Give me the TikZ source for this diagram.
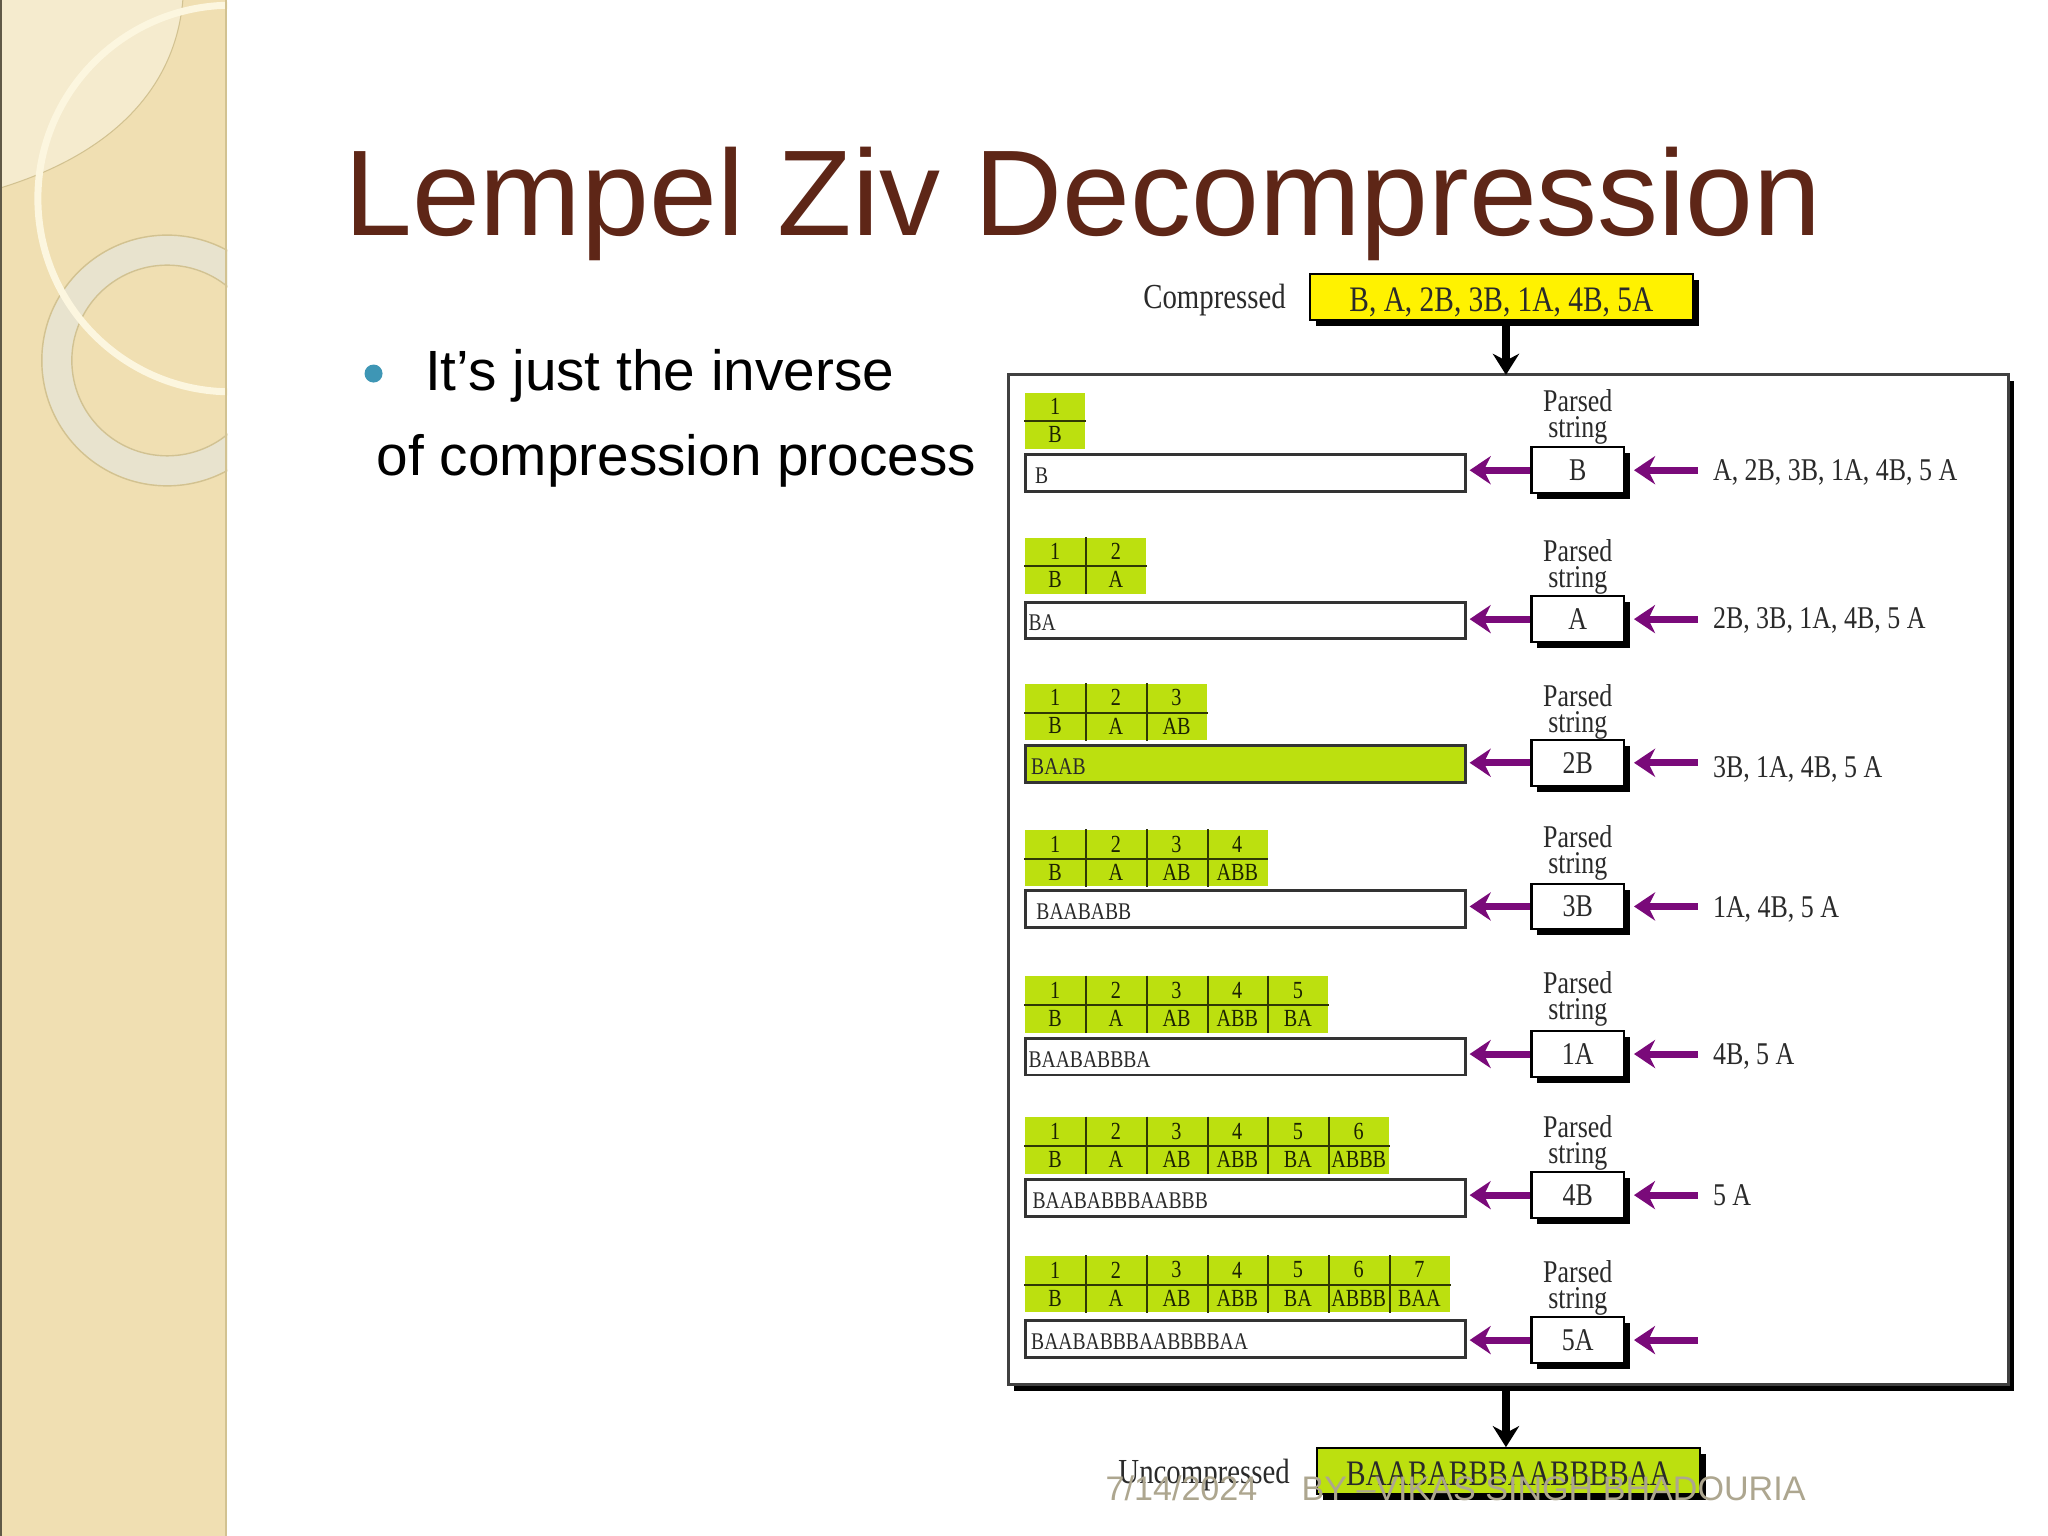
\documentclass[tikz,border=0pt]{standalone}
\usepackage{fontspec}
\usepackage{tikz}
\usetikzlibrary{arrows.meta,shadows}
\setmainfont{Liberation Sans}
\newfontfamily\figfont[FakeStretch=0.82]{Liberation Serif}

\definecolor{sidebar}{HTML}{F0DFB2}
\definecolor{sidelight}{HTML}{F5EBCE}
\definecolor{sideedge}{HTML}{D2C291}
\definecolor{ringthin}{HTML}{FCF6DF}
\definecolor{ringwide}{HTML}{E8E3CE}
\definecolor{titlecol}{HTML}{5E2617}
\definecolor{bulletcol}{HTML}{3E96B5}
\definecolor{footcol}{HTML}{ADA68F}
\definecolor{limecol}{HTML}{BCE00F}
\definecolor{purplecol}{HTML}{7A0A7A}
\definecolor{inkcol}{HTML}{2A2A2A}

\tikzset{
    hardshadow/.style={drop shadow={shadow xshift=1.7pt, shadow yshift=-1.7pt, fill=black, opacity=1}},
    bigbox/.style={draw=black, line width=0.6pt, minimum width=3.83cm, minimum height=0.46cm, hardshadow, inner sep=0pt,
        text height=8pt, text depth=0pt, font=\figfont\fontsize{10.2}{11}\selectfont, text=inkcol},
    outerbox/.style={draw=black!75, fill=white, line width=0.9pt, minimum width=10cm, minimum height=10.1cm,
        drop shadow={shadow xshift=1.5pt, shadow yshift=-1.9pt, fill=black, opacity=1}},
    hdcell/.style={fill=limecol, minimum width=0.607cm, minimum height=0.281cm, inner sep=0pt, anchor=north west,
        font=\figfont\fontsize{7}{8}\selectfont, text=black!85!limecol},
    gridline/.style={black!75!limecol, line width=0.6pt},
    barbox/.style={draw=black!80, line width=0.8pt, minimum width=4.4cm, minimum height=0.366cm, inner sep=0pt, anchor=north west},
    parsedbox/.style={draw=black, fill=white, line width=0.6pt, minimum width=0.927cm, minimum height=0.457cm, inner sep=0pt,
        hardshadow, font=\figfont\fontsize{9}{10}\selectfont, text=inkcol},
    plaintext/.style={inner sep=0pt, text=inkcol},
    figlabel/.style={plaintext, anchor=east, font=\figfont\fontsize{10}{11}\selectfont},
    restlabel/.style={plaintext, anchor=west, font=\figfont\fontsize{9}{10}\selectfont},
    bartext/.style={plaintext, anchor=west, font=\figfont\fontsize{6.8}{8}\selectfont},
    purplearrow/.style={-{Stealth[length=6pt,width=8pt]}, purplecol, line width=2pt},
    blackarrow/.style={-{Stealth[length=6pt,width=7.5pt]}, black, line width=2.4pt}
}

\begin{document}
\begin{tikzpicture}[x=0.013061cm, y=-0.013061cm]
    \useasboundingbox (0,0) rectangle (1568,1176);
    \fill[white] (0,0) rectangle (1568,1176);

    % side panel
    \begin{scope}
        \clip (0,0) rectangle (174,1176);
        \fill[sidebar] (0,0) rectangle (174,1176);
        \fill[sidelight] (0,0) -- (140,0) .. controls (135,60) and (95,115) .. (0,144) -- cycle;
        \draw[sideedge, line width=0.3pt] (140,0) .. controls (135,60) and (95,115) .. (0,144);
        \draw[ringwide, line width=0.3cm] (128,276) circle (84);
        \draw[sideedge, line width=0.4pt] (128,276) circle (73);
        \draw[sideedge, line width=0.4pt] (128,276) circle (96);
        \draw[ringthin, line width=0.07cm] (177,152) circle (148);
        \fill[sideedge] (172,0) rectangle (174,1176);
        \fill[black!60!sidebar] (0,0) rectangle (1.5,1176);
    \end{scope}

    % slide text
    \node[anchor=base west, inner sep=0pt, text=titlecol, font=\fontsize{34.7}{40}\selectfont] (title) at (263,180) {Lempel Ziv Decompression};
    \node[circle, fill=bulletcol, minimum size=0.18cm, inner sep=0pt] (bullet) at (286,286) {};
    \node[anchor=base west, inner sep=0pt, font=\fontsize{16.15}{20}\selectfont] (line1) at (325,299) {It’s just the inverse};
    \node[anchor=base west, inner sep=0pt, font=\fontsize{16.15}{20}\selectfont] (line2) at (288,364) {of compression process};

    % outer frame, top and bottom boxes
    \node[outerbox] (frame) at (1155,673.5) {};
    \node[bigbox, fill=yellow] (compressed) at (1149.5,227.5) {B, A, 2B, 3B, 1A, 4B, 5A};
    \node[figlabel] (complabel) at (985,230) {Compressed};
    \node[bigbox, fill=limecol] (uncompressed) at (1155,1126.5) {BAABABBBAABBBBAA};
    \node[figlabel] (uncomplabel) at (988,1129) {Uncompressed};

    \coordinate (compout) at (1153,247);
    \coordinate (framein) at (1153,287);
    \coordinate (frameout) at (1153,1064);
    \coordinate (uncompin) at (1153,1108);
    \draw[blackarrow] (compout) -- (framein);
    \draw[blackarrow] (frameout) -- (uncompin);

    % one row per parsing step
    \foreach \n/\tabtop/\bartop/\boxmid/\lblmid/\val/\rest/\resty/\bartxt/\txtx/\barfill in {
        1/300/347/360/319/B/{A, 2B, 3B, 1A, 4B, 5 A}/362/B/792/white,
        2/411/460/474/434/A/{2B, 3B, 1A, 4B, 5 A}/475/BA/787/white,
        3/523/570/584/545/2B/{3B, 1A, 4B, 5 A}/589/BAAB/789/limecol,
        4/635/681/694/653/3B/{1A, 4B, 5 A}/696/BAABABB/793/white,
        5/747/794/807/765/1A/{4B, 5 A}/809/BAABABBBA/787/white,
        6/855/902/915/875/4B/{5 A}/915/BAABABBBAABBB/790/white,
        7/961/1010/1026/986/5A/{}/1026/BAABABBBAABBBBAA/789/white} {
        % table
        \foreach \i/\w in {1/B,2/A,3/AB,4/ABB,5/BA,6/ABBB,7/BAA} {
            \ifnum\i>\n\else
                \node[hdcell] (hd\n-\i) at (737.5+46.5*\i,\tabtop) {\i};
                \node[hdcell] (val\n-\i) at (737.5+46.5*\i,\tabtop+21.5) {\w};
            \fi
        }
        \foreach \i in {1,...,\n} {
            \draw[gridline] (hd\n-\i.south west) -- (hd\n-\i.south east);
            \ifnum\i<\n
                \draw[gridline] (hd\n-\i.north east) -- (val\n-\i.south east);
            \fi
        }
        % output bar
        \node[barbox, fill=\barfill] (bar\n) at (784,\bartop) {};
        \node[bartext] (bartxt\n) at (\txtx,\bartop+17) {\bartxt};
        % parsed string
        \node[parsedbox] (parsed\n) at (1208,\boxmid) {\val};
        \node[plaintext, align=center, font=\figfont\fontsize{9}{7.4}\selectfont] (lbl\n) at (1208,\lblmid) {Parsed\\string};
        \coordinate (in\n) at (1300,\boxmid);
        \node[restlabel] (rest\n) at (1311,\resty) {\rest};
        \draw[purplearrow, shorten >=2.5pt] (in\n) -- (parsed\n.east);
        \draw[purplearrow, shorten >=0.8pt] (parsed\n.west) -- (parsed\n.west -| bar\n.east);
    }

    % footer
    \node[anchor=base west, inner sep=0pt, text=footcol, font=\fontsize{9.7}{12}\selectfont] (footdate) at (846,1149) {7/14/2024};
    \node[anchor=base west, inner sep=0pt, text=footcol, font=\fontsize{9.7}{12}\selectfont] (footname) at (996,1149) {BY –VIKAS SINGH BHADOURIA};
\end{tikzpicture}
\end{document}
